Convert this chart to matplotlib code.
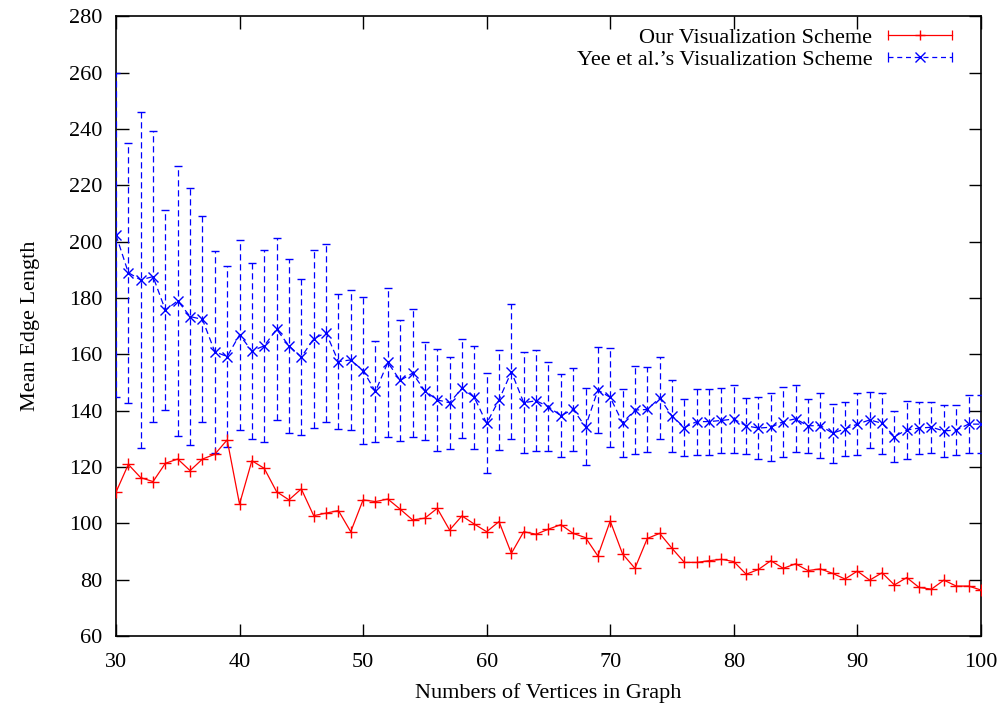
import numpy as np
import matplotlib
matplotlib.use("Agg")
import matplotlib.pyplot as plt
from matplotlib.legend_handler import HandlerBase
from matplotlib.lines import Line2D

# ---- data ----
vertices = list(range(30, 101))

ours_mean = [111.0, 120.9, 116.2, 114.8, 121.3, 122.8, 118.7, 122.8, 124.5, 129.6,
             106.8, 122.2, 119.5, 111.2, 108.3, 112.2, 102.7, 103.6, 104.5, 97.0,
             108.3, 107.7, 108.6, 105.0, 101.2, 101.8, 105.3, 97.6, 102.6, 99.7,
             97.0, 100.6, 89.3, 97.0, 96.1, 97.9, 99.5, 96.4, 94.9, 88.4,
             100.8, 89.1, 84.0, 94.6, 96.4, 91.1, 86.1, 86.1, 86.7, 87.2,
             86.4, 81.9, 83.6, 86.7, 84.0, 85.6, 83.2, 83.8, 82.2, 80.2,
             83.0, 79.8, 82.4, 78.1, 80.7, 77.2, 76.6, 79.8, 77.7, 77.7,
             76.3]
ours_err = [0.0] * len(vertices)

yee_mean = [202.4, 189.0, 186.4, 187.6, 175.7, 179.0, 173.4, 172.4, 160.9, 159.2,
            166.9, 161.2, 163.0, 168.9, 163.0, 159.0, 165.5, 167.7, 157.4, 158.0,
            154.2, 146.8, 157.1, 150.7, 153.3, 147.0, 143.8, 142.8, 147.9, 144.7,
            135.5, 143.8, 153.8, 142.8, 143.5, 141.4, 138.2, 140.4, 134.3, 147.3,
            144.7, 135.7, 140.2, 140.4, 144.5, 138.1, 134.0, 136.1, 136.1, 136.5,
            137.0, 134.6, 133.8, 134.1, 136.1, 137.1, 134.6, 134.7, 132.0, 133.5,
            135.2, 136.7, 135.5, 130.8, 133.1, 133.8, 134.1, 132.8, 133.1, 135.2,
            135.2]
yee_err = [57.5, 46.2, 59.6, 51.7, 35.5, 48.0, 45.7, 36.6, 35.8, 32.1,
           33.8, 31.2, 34.0, 32.4, 30.8, 27.7, 31.6, 31.6, 24.1, 24.8,
           26.0, 17.8, 26.6, 21.5, 22.8, 17.5, 18.0, 16.4, 17.6, 18.3,
           17.8, 17.8, 24.0, 17.9, 17.9, 15.7, 14.8, 14.8, 13.7, 15.4,
           17.5, 12.0, 15.7, 15.1, 14.6, 12.7, 10.1, 11.7, 11.7, 11.7,
           12.0, 10.0, 11.1, 12.0, 12.4, 11.9, 9.5, 11.5, 10.5, 9.5,
           11.1, 10.0, 10.9, 9.0, 10.2, 9.3, 9.1, 9.3, 9.0, 10.4,
           10.4]

x_ticks = list(range(30, 101, 10))
y_ticks = list(range(60, 281, 20))

plt.rcParams['font.family'] = ['Liberation Serif', 'DejaVu Serif']
FS = 16

fig = plt.figure(figsize=(10.04, 7.06), dpi=100)
ax = fig.add_axes([0.1155, 0.0993, 0.8615, 0.8775])

RED = '#ff0000'
BLUE = '#0000ff'

# Yee et al. series (dashed with error bars)
eb = ax.errorbar(vertices, yee_mean, yerr=yee_err, color=BLUE, ls=(0, (5, 3)), lw=0.9,
                 marker='x', ms=7, mew=1.0, ecolor=BLUE, elinewidth=0.9, capsize=3,
                 capthick=0.9, zorder=3)
for lc in eb[2]:
    lc.set_linestyle((0, (5, 3)))

# Our series
ax.errorbar(vertices, ours_mean, yerr=ours_err, color=RED, ls='-', lw=0.9,
            marker='+', ms=8, mew=1.0, ecolor=RED, elinewidth=0.9, capsize=0, zorder=4)

ax.set_xlim(30, 100)
ax.set_ylim(60, 280)
ax.set_xticks(x_ticks)
ax.set_yticks(y_ticks)
ax.tick_params(direction='in', length=9, width=1, top=True, right=True, labelsize=FS)
ax.tick_params(axis='y', pad=10)
ax.tick_params(axis='x', pad=12)
for s in ax.spines.values():
    s.set_linewidth(1.2)

ax.set_xlabel('Numbers of Vertices in Graph', fontsize=FS, labelpad=8)
ax.set_ylabel('Mean Edge Length', fontsize=FS, labelpad=21)


class ErrHandler(HandlerBase):
    def __init__(self, color, ls, marker, ms):
        super().__init__()
        self.color, self.ls, self.marker, self.ms = color, ls, marker, ms

    def create_artists(self, legend, orig_handle, xdescent, ydescent, width, height,
                       fontsize, trans):
        y = height / 2 - ydescent
        x0, x1 = -xdescent, width - xdescent
        line = Line2D([x0, x1], [y, y], color=self.color, ls=self.ls, lw=0.9)
        caps = Line2D([x0, x1], [y, y], color=self.color, ls='none', marker='|',
                      ms=7, mew=0.9)
        mid = Line2D([(x0 + x1) / 2], [y], color=self.color, ls='none',
                     marker=self.marker, ms=self.ms, mew=1.0)
        for a in (line, caps, mid):
            a.set_transform(trans)
        return [line, caps, mid]


h1 = Line2D([], [], color=RED)
h2 = Line2D([], [], color=BLUE)
leg = ax.legend([h1, h2], ['Our Visualization Scheme', "Yee et al.\u2019s Visualization Scheme"],
                handler_map={h1: ErrHandler(RED, '-', '+', 7),
                             h2: ErrHandler(BLUE, (0, (4, 3)), 'x', 7)},
                loc='upper right', bbox_to_anchor=(0.980, 1.0), frameon=False,
                markerfirst=False, fontsize=FS, handlelength=2.9, handletextpad=0.7,
                labelspacing=0.05, borderaxespad=0.3, borderpad=0.2)

fig.savefig('out.png', dpi=100)
